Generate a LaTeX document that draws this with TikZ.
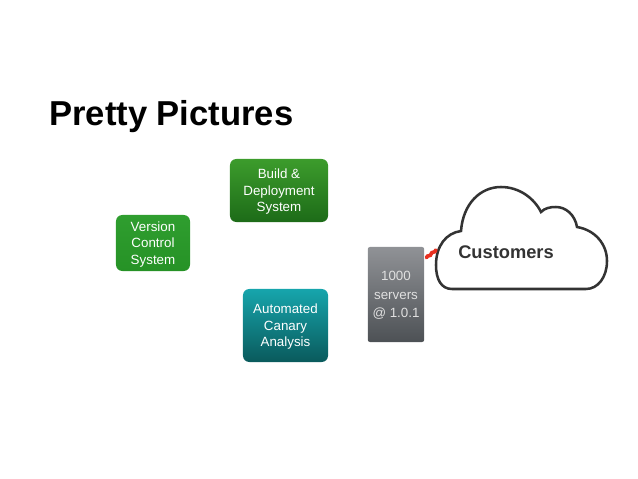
\documentclass[tikz,border=0pt]{standalone}
\usepackage{fontspec}
\setmainfont{Liberation Sans}
\usetikzlibrary{calc,decorations.pathmorphing}
\definecolor{vcsGreen}{RGB}{47,158,47}
\definecolor{vcsGreenDark}{RGB}{38,146,38}
\definecolor{buildGreen}{RGB}{60,156,44}
\definecolor{buildGreenDark}{RGB}{29,107,24}
\definecolor{canaryTeal}{RGB}{22,165,172}
\definecolor{canaryTealDark}{RGB}{10,90,92}
\definecolor{serverGray}{RGB}{144,146,150}
\definecolor{serverGrayDark}{RGB}{77,81,85}
\definecolor{serverText}{RGB}{224,224,224}
\definecolor{cloudLine}{RGB}{51,51,51}
\definecolor{linkRed}{RGB}{232,48,32}
\tikzset{
  stage/.style={rounded corners=4.5pt, align=center, text=white, text depth=0pt,
    font=\fontsize{9.5}{11.8}\selectfont, inner sep=2pt},
  vcsbox/.style={stage, top color=vcsGreen, bottom color=vcsGreenDark,
    minimum width=1.85cm, minimum height=1.4cm},
  buildbox/.style={stage, top color=buildGreen, bottom color=buildGreenDark,
    minimum width=2.45cm, minimum height=1.575cm},
  canarybox/.style={stage, top color=canaryTeal, bottom color=canaryTealDark,
    minimum width=2.125cm, minimum height=1.825cm},
  fleet/.style={rounded corners=1.5pt, align=center, text=serverText, text depth=0pt,
    top color=serverGray, bottom color=serverGrayDark,
    font=\fontsize{9.5}{13}\selectfont,
    minimum width=1.35cm, minimum height=2.375cm},
  cloudline/.style={draw=cloudLine, line width=1.8pt, fill=white},
  squiggle/.style={draw=linkRed, line width=2.6pt, line cap=round, decorate,
    decoration={snake, amplitude=0.4pt, segment length=4pt}}
}
\begin{document}
\begin{tikzpicture}[x=0.025cm,y=-0.025cm]
    \useasboundingbox (0,0) rectangle (638,479);
    \node[anchor=base west, inner sep=0pt, font=\fontsize{24.6}{28}\selectfont\bfseries] (title) at (49,125) {Pretty Pictures};
    \node[vcsbox] (vcs) at (153,243) {Version\\Control\\System};
    \node[buildbox] (build) at (279,190.5) {Build \&\\Deployment\\System};
    \node[canarybox] (canary) at (285.5,325.5) {Automated\\Canary\\Analysis};
    \node[fleet] (srv) at (396,294.5) {1000\\servers\\@ 1.0.1};
    % cloud
    \draw[cloudline] (452,289) .. controls (441,289) and (436,279) .. (436,265)
      .. controls (436,246) and (446,233) .. (461,231)
      .. controls (463,204) and (480,187) .. (501,187)
      .. controls (519,187) and (534,198) .. (541,212)
      .. controls (545,208) and (550,207) .. (556,207)
      .. controls (566,207) and (575,215) .. (577,227)
      .. controls (595,230) and (607,244) .. (607,261)
      .. controls (607,277) and (598,289) .. (586,289) -- cycle;
    \node[font=\fontsize{13}{15}\selectfont\bfseries, text=cloudLine] (cust) at (506,252) {Customers};
    \coordinate (srvport) at ($(srv.north east)+(2,11)$);
    \coordinate (cloudport) at (436,250);
    \draw[squiggle] (srvport) -- (cloudport);
\end{tikzpicture}
\end{document}
